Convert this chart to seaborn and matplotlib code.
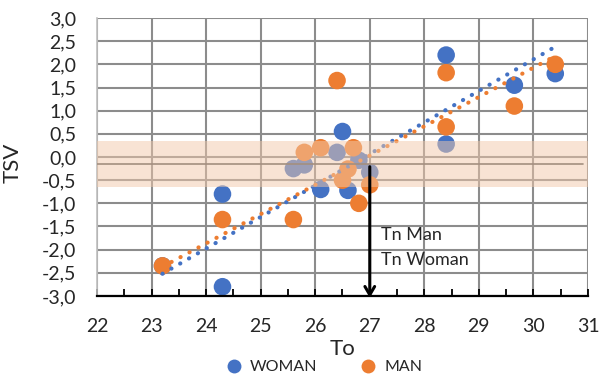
import numpy as np
import pandas as pd
import matplotlib
matplotlib.use("Agg")
import matplotlib.pyplot as plt
from matplotlib.lines import Line2D
import seaborn as sns

# ---- data ----
woman_to = [23.2, 24.3, 24.3, 25.6, 25.8, 26.1, 26.4, 26.5, 26.6, 26.8, 27.0, 28.4, 28.4, 29.65, 30.4]
woman_tsv = [-2.35, -0.8, -2.8, -0.25, -0.17, -0.7, 0.1, 0.55, -0.72, -0.07, -0.33, 2.2, 0.28, 1.55, 1.8]
man_to = [23.2, 24.3, 25.6, 25.8, 26.1, 26.4, 26.5, 26.6, 26.7, 26.8, 27.0, 28.4, 28.4, 29.65, 30.4]
man_tsv = [-2.35, -1.35, -1.35, 0.1, 0.2, 1.65, -0.5, -0.26, 0.2, -1.0, -0.6, 1.82, 0.65, 1.1, 2.0]
# linear trend lines (end points)
trend_to = [23.2, 30.4]
woman_trend_tsv = [-2.52, 2.38]
man_trend_tsv = [-2.37, 2.18]
groups = ["WOMAN", "MAN"]
x_ticks = [22, 23, 24, 25, 26, 27, 28, 29, 30, 31]
y_ticks = [-3.0, -2.5, -2.0, -1.5, -1.0, -0.5, 0.0, 0.5, 1.0, 1.5, 2.0, 2.5, 3.0]
neutral_tsv = -0.15
band = (-0.65, 0.35)
tn_to = 27.0

colors = {"WOMAN": "#4472C4", "MAN": "#ED7D31"}

df = pd.DataFrame({
    "To": woman_to + man_to,
    "TSV": woman_tsv + man_tsv,
    "Sex": ["WOMAN"] * len(woman_to) + ["MAN"] * len(man_to),
})
trend = pd.DataFrame({
    "To": trend_to + trend_to,
    "TSV": woman_trend_tsv + man_trend_tsv,
    "Sex": ["WOMAN"] * 2 + ["MAN"] * 2,
})

sns.set_style("white")
plt.rcParams["font.family"] = ["Lato", "DejaVu Sans"]

fig = plt.figure(figsize=(6.04, 3.79), dpi=100)
ax = fig.add_axes([0.1606, 0.219, 0.8129, 0.7335])

ax.set_xlim(22, 31)
ax.set_ylim(-3.0, 3.0)
ax.set_xticks(x_ticks)
ax.set_yticks(y_ticks)
ax.set_xticks(np.arange(22.5, 31, 1.0), minor=True)
ax.set_xticklabels([str(v) for v in x_ticks], fontsize=14)
ax.set_yticklabels([f"{v:.1f}".replace(".", ",") for v in y_ticks], fontsize=14)

ax.grid(True, which="major", color="#8c8c8c", linewidth=1.5, zorder=0)
ax.set_axisbelow(True)

sns.scatterplot(data=df, x="To", y="TSV", hue="Sex", palette=colors,
                hue_order=groups, s=160, edgecolor="none", legend=False,
                ax=ax, zorder=3)

sns.lineplot(data=trend, x="To", y="TSV", hue="Sex", palette=colors,
             hue_order=groups, legend=False, ax=ax, estimator=None,
             linestyle=(0, (0.05, 2.4)), linewidth=3.0,
             dash_capstyle="round", zorder=4)

ax.axhline(neutral_tsv, color="#555555", linewidth=1.2, xmax=0.99, zorder=5)
ax.axhspan(band[0], band[1], color="#F2C9AA", alpha=0.5, linewidth=0, zorder=6)

ax.annotate("", xy=(tn_to, -3.1), xytext=(tn_to, neutral_tsv),
            arrowprops=dict(arrowstyle="->,head_length=0.6,head_width=0.35",
                            color="black", lw=2.2),
            annotation_clip=False, zorder=7)
ax.text(27.2, -1.68, "Tn Man", fontsize=13, va="center", ha="left", zorder=8)
ax.text(27.2, -2.22, "Tn Woman", fontsize=13, va="center", ha="left", zorder=8)

for s in ["top", "right"]:
    ax.spines[s].set_visible(False)
ax.spines["left"].set_color("#bfbfbf")
ax.spines["left"].set_linewidth(1.2)
ax.spines["bottom"].set_color("black")
ax.spines["bottom"].set_linewidth(1.6)
ax.spines["bottom"].set_zorder(8)

ax.tick_params(axis="x", which="both", direction="in", length=5, width=1.3,
               color="black", bottom=True, pad=16)
ax.tick_params(axis="y", which="both", length=0, pad=15)

ax.set_xlabel("To", fontsize=16, labelpad=3)
ax.set_ylabel("TSV", fontsize=16, labelpad=2)
ax.yaxis.set_label_coords(-0.152, 0.48)

handles = [Line2D([], [], marker="o", linestyle="none", markersize=10,
                  markerfacecolor=colors[g], markeredgecolor="none", label=g)
           for g in groups]
fig.legend(handles=handles, loc="center", bbox_to_anchor=(0.53, 0.031), ncol=2,
           frameon=False, fontsize=11.5, handletextpad=0.0, columnspacing=2.2)

fig.savefig("out.png", dpi=100)
